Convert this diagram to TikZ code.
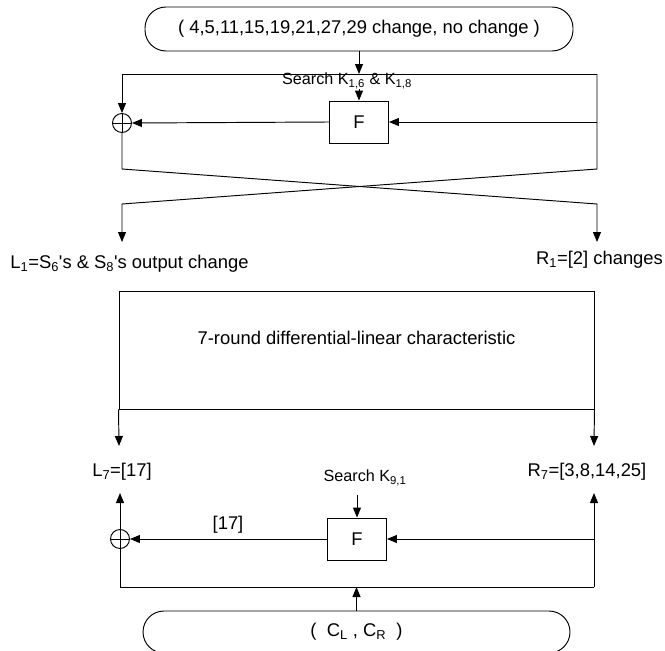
\documentclass[tikz,border=0pt]{standalone}
\usepackage{fontspec}
\setmainfont{Liberation Sans}
\usetikzlibrary{arrows.meta,positioning,calc}
\tikzset{
  lbl/.style   ={font=\fontsize{18.4}{22}\selectfont, inner sep=0pt},
  klbl/.style  ={font=\fontsize{16.2}{20}\selectfont, inner sep=0pt},
  pill/.style  ={rectangle, rounded corners=21pt, draw, lbl,
                 minimum width=428pt, minimum height=44pt},
  fbox/.style  ={rectangle, draw, lbl, minimum width=59pt, minimum height=42pt},
  bigbox/.style={rectangle, draw, minimum width=475pt, minimum height=118pt},
  xorop/.style ={circle, draw, minimum size=19pt, inner sep=0pt,
                 path picture={\draw (path picture bounding box.north) -- (path picture bounding box.south)
                                     (path picture bounding box.west) -- (path picture bounding box.east);}},
  fl/.style    ={-{Triangle[length=10pt,width=8pt]}},
}
\begin{document}
\begin{tikzpicture}[x=1pt,y=-1pt,line width=0.95pt]
  \useasboundingbox (0,0) rectangle (665,651);
  \clip (0,0) rectangle (665,651);
  % first round
  \node[pill] (pin) at (359,29) {( 4,5,11,15,19,21,27,29 change, no change )};
  \coordinate (tl) at (122,74);
  \coordinate (tr) at (597,74);
  \node[xorop] (xa) at (122,123) {};
  \node[fbox] (fa) at (359,122) {F};
  \node[klbl] (ka) at (347,81) {Search K\textsubscript{1,6} \& K\textsubscript{1,8}};
  \draw[fl] (pin.south) -- (pin.south |- tl);
  \draw (tl) -- (tr);
  \draw[fl] (tl) -- (xa.north);
  \draw[fl] (ka.south -| fa.north) -- (fa.north);
  \draw[fl] (tr |- fa) -- (fa.east);
  \draw[fl] (fa.west) -- (xa.east);
  % swap of the halves
  \coordinate (sl) at (122,169);
  \coordinate (sr) at (597,169);
  \coordinate (el) at (122,204);
  \coordinate (er) at (597,204);
  \node[lbl] (l1) at (129.5,264) {L\textsubscript{1}=S\textsubscript{6}\textquotesingle s \& S\textsubscript{8}\textquotesingle s output change};
  \node[lbl] (r1) at (599.5,260) {R\textsubscript{1}=[2] changes};
  \coordinate (l1a) at (122,242);
  \coordinate (r1a) at (597,242);
  \draw[fl] (xa.south) -- (sl) -- (er) -- (r1a);
  \draw[fl] (tr) -- (sr) -- (el) -- (l1a);
  % rounds 2-8
  \node[bigbox] (chr) at (356.5,350) {};
  \node[lbl] (chrt) at (356.5,338) {7-round differential-linear characteristic};
  \node[lbl] (l7) at (122,472) {L\textsubscript{7}=[17]};
  \node[lbl] (r7) at (587,472) {R\textsubscript{7}=[3,8,14,25]};
  \coordinate (l7b) at (119,446);
  \coordinate (r7b) at (594,446);
  \draw[fl] (chr.south west) -- (l7b);
  \draw[fl] (chr.south east) -- (r7b);
  % last round
  \node[xorop] (xb) at (120,539) {};
  \node[fbox] (fb) at (357,539) {F};
  \node[klbl] (kb) at (365,478) {Search K\textsubscript{9,1}};
  \node[lbl] (dl) at (228,525) {[17]};
  \node[pill, minimum width=427pt, minimum height=42pt] (cin) at (356.5,632) {( \ C\textsubscript{L} , C\textsubscript{R} \ )};
  \coordinate (bl) at (120,587);
  \coordinate (bm) at (356.5,587);
  \coordinate (br) at (594,587);
  \coordinate (l7a) at (120,493);
  \coordinate (r7a) at (594,493);
  \coordinate (kba) at (357,495);
  \draw[fl] (cin.north) -- (bm);
  \draw (xb.south) -- (bl) -- (br);
  \draw[fl] (br) -- (r7a);
  \draw[fl] (xb.north) -- (l7a);
  \draw[fl] (br |- fb) -- (fb.east);
  \draw[fl] (fb.west) -- (xb.east);
  \draw[fl] (kba) -- (fb.north);
\end{tikzpicture}
\end{document}
